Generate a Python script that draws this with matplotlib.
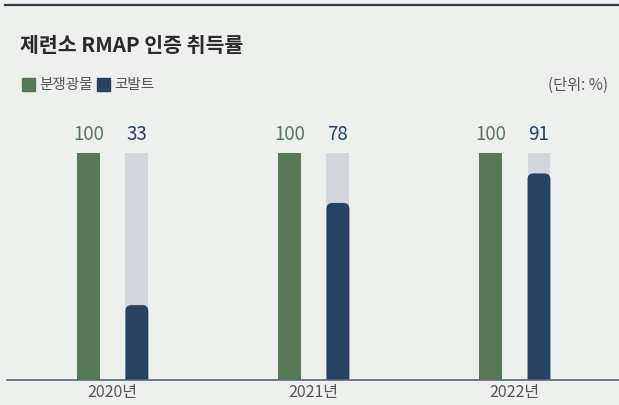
import matplotlib.pyplot as plt
from matplotlib.patches import FancyBboxPatch
from matplotlib.lines import Line2D

plt.rcParams["font.family"] = ["Noto Sans CJK KR", "DejaVu Sans"]

# data
years = ["2020년", "2021년", "2022년"]
conflict_minerals = [100, 100, 100]
cobalt = [33, 78, 91]
series_names = ["분쟁광물", "코발트"]

GREEN = "#587859"
NAVY = "#284262"
TRACK = "#d5d6dc"
BG = "#eef0ee"
TEXT = "#555555"

W, H = 619, 405
fig = plt.figure(figsize=(W / 100, H / 100), dpi=100, facecolor=BG)


def fx(px):
    return px / W


def fy(py):
    return 1 - py / H


# top rule
fig.add_artist(Line2D([fx(5), 1], [fy(5), fy(5)], color="#2e3e4e", lw=1.6))

fig.text(fx(20), fy(45), "제련소 RMAP 인증 취득률", fontsize=14.8, fontweight="bold",
         color="#2a2a2a", va="center", ha="left")

# legend
for sx, tx, col, name in [(22, 39, GREEN, series_names[0]), (97, 114, NAVY, series_names[1])]:
    fig.patches.append(plt.Rectangle((fx(sx), fy(91)), fx(13), 13 / H, color=col,
                                     transform=fig.transFigure, figure=fig))
    fig.text(fx(tx), fy(85), name, fontsize=10.5, color=TEXT, va="center", ha="left")

fig.text(fx(608), fy(85), "(단위: %)", fontsize=11, color=TEXT, va="center", ha="right")

# plot area
x0, x1 = -0.526, 2.518
ax = fig.add_axes([fx(7), fy(380), fx(612), 227 / H])
ax.set_facecolor(BG)
ax.set_xlim(x0, x1)
ax.set_ylim(0, 100)

x = list(range(len(years)))
bw = 0.114
off = 0.12
ax.bar([i - off for i in x], conflict_minerals, width=bw, color=GREEN)
ax.bar([i + off for i in x], [100] * len(x), width=bw, color=TRACK)

px_per_x = 612 / (x1 - x0)
px_per_y = 227 / 100
r = 6 / px_per_x
for i, v in zip(x, cobalt):
    p = FancyBboxPatch((i + off - bw / 2, -10), bw, v + 10,
                       boxstyle=f"round,pad=0,rounding_size={r}",
                       mutation_aspect=px_per_x / px_per_y,
                       fc=NAVY, ec="none", clip_on=True)
    ax.add_patch(p)

for i, a, b in zip(x, conflict_minerals, cobalt):
    ax.text(i - off, 100 + 8, f"{a}", color=GREEN, fontsize=13.5, ha="center", va="center", clip_on=False)
    ax.text(i + off, 100 + 8, f"{b}", color=NAVY, fontsize=13.5, ha="center", va="center", clip_on=False)

for s in ["top", "right", "left"]:
    ax.spines[s].set_visible(False)
ax.spines["bottom"].set_color("#56677a")
ax.spines["bottom"].set_linewidth(1.2)
ax.set_yticks([])
ax.set_xticks(x)
ax.set_xticklabels(years, fontsize=11.5, color=TEXT)
ax.tick_params(axis="x", length=0, pad=3)

fig.savefig("out.png", dpi=100, facecolor=BG)
